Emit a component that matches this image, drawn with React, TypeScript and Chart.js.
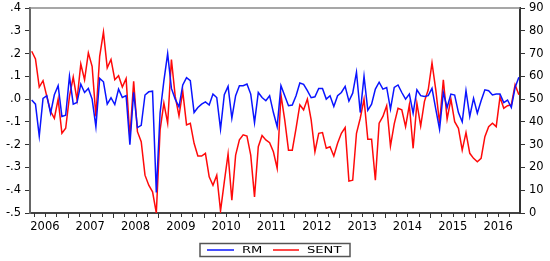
import React, { useEffect, useRef } from "react";
import { Chart, registerables } from "chart.js";
Chart.register(...registerables);

// Monthly observations, 2006M03 .. 2016M12
const START_YEAR = 2006;
const START_MONTH = 3;
const years = ["2006", "2007", "2008", "2009", "2010", "2011", "2012", "2013", "2014", "2015", "2016"];
const seriesNames = ["RM", "SENT"];

const rm = [
  -0.004, -0.022, -0.162, 0.003, 0.015, -0.062, 0.019, 0.059, -0.076, -0.071,
  0.1, -0.022, -0.015, 0.066, 0.029, 0.047, 0.0, -0.121, 0.091, 0.076,
  -0.022, 0.006, -0.024, 0.044, 0.007, 0.015, -0.2, 0.03, -0.125, -0.115,
  0.018, 0.032, 0.035, -0.41, -0.06, 0.08, 0.2, 0.047, 0.0, -0.034,
  0.062, 0.094, 0.081, -0.059, -0.037, -0.022, -0.012, -0.026, 0.022, 0.007,
  -0.132, 0.019, 0.056, -0.084, 0.015, 0.059, 0.059, 0.066, 0.022, -0.103,
  0.029, 0.007, -0.007, 0.015, -0.059, -0.121, 0.059, 0.015, -0.029, -0.026,
  0.015, 0.071, 0.065, 0.037, 0.006, 0.01, 0.047, 0.047, 0.0, 0.015,
  -0.032, 0.015, 0.029, 0.056, -0.009, 0.026, 0.118, -0.059, 0.1, -0.049,
  -0.022, 0.044, 0.074, 0.044, 0.051, -0.044, 0.051, 0.062, 0.029, 0.0,
  0.022, -0.062, 0.041, 0.015, 0.012, 0.015, 0.047, -0.044, -0.132, 0.029,
  -0.037, 0.022, 0.018, -0.059, -0.1, 0.037, -0.076, 0.003, -0.062, -0.007,
  0.041, 0.037, 0.018, 0.022, 0.022, -0.015, -0.004, -0.037, 0.051, 0.096,
];

const sent = [
  71, 67.6, 55.3, 58.1, 51.2, 44.6, 41.6, 50, 35, 37.2,
  51.2, 59.7, 49.7, 65.4, 58.5, 70.3, 64.4, 42.4, 68.8, 79.4,
  63.7, 67.4, 58.5, 60.3, 55.3, 59, 33.2, 57.8, 35.7, 31.3,
  16.6, 12.2, 9.3, 0, 36.5, 48.2, 39.4, 67.4, 51.2, 42.6,
  53.4, 38.7, 39.4, 30.6, 25, 25, 26.2, 15.9, 12.2, 16.6,
  0.9, 13.7, 25.9, 5.6, 25.4, 32.1, 34.3, 33.8, 25.4, 7.1,
  29.1, 34, 32.1, 30.9, 26.9, 19.6, 51.9, 40.9, 27.6, 27.6,
  37.2, 47.5, 45.3, 50, 40.9, 26.9, 35, 35.3, 28.4, 29.1,
  25, 30.6, 35, 37.5, 14, 14.4, 35, 41.6, 50, 32.4,
  32.4, 14.4, 39.4, 42.4, 47.1, 29.4, 39.1, 46, 45.3, 37.9,
  47.5, 28.4, 48.2, 38.2, 49, 54.1, 65.9, 54.1, 39.4, 58.5,
  41.2, 50, 40.1, 37.2, 27.6, 35.3, 26.2, 24, 22.5, 24,
  33.5, 37.9, 39.4, 37.9, 50.9, 46, 47.1, 47.5, 56.3, 51.9,
];

const leftTickValues = [-0.5, -0.4, -0.3, -0.2, -0.1, 0, 0.1, 0.2, 0.3, 0.4];
const rightTickValues = [0, 10, 20, 30, 40, 50, 60, 70, 80, 90];

const BLUE = "#0a14ff";
const RED = "#ff0a0a";
const FONT = "DejaVu Sans";

export default function App() {
  const ref = useRef<HTMLCanvasElement | null>(null);

  useEffect(() => {
    document.body.style.margin = "0";
    const canvas = ref.current;
    if (!canvas) return;

    const idxOf = (year: number, month: number) =>
      (year - START_YEAR) * 12 + (month - START_MONTH);
    const xMin = -0.45;
    const xMax = rm.length - 1 + 0.3;
    const yearCenters = years.map((y) => idxOf(+y, 1) + 5.5);
    const quarterTicks: { v: number; major: boolean }[] = [];
    for (let y = START_YEAR; y <= +years[years.length - 1] + 1; y++) {
      for (const q of [0, 3, 6, 9]) {
        const v = idxOf(y, 1 + q) - 0.5;
        if (v > xMin && v <= xMax + 0.3) quarterTicks.push({ v, major: q === 0 });
      }
    }

    const fmtLeft = (v: number) => {
      const r = Math.round(v * 10) / 10;
      return r.toFixed(1).replace("0.", ".");
    };

    const decor = {
      id: "decor",
      afterDraw(chart: any) {
        const c = chart.ctx as CanvasRenderingContext2D;
        const a = chart.chartArea;
        const xs = chart.scales.x;
        c.save();
        // top frame line
        c.strokeStyle = "#8a8a8a";
        c.lineWidth = 1.5;
        c.beginPath();
        c.moveTo(a.left, a.top);
        c.lineTo(a.right, a.top);
        c.stroke();
        // x ticks (quarters)
        c.strokeStyle = "#333";
        c.lineWidth = 1;
        for (const t of quarterTicks) {
          const px = Math.round(xs.getPixelForValue(t.v)) + 0.5;
          if (px < a.left || px > a.right + 1) continue;
          c.beginPath();
          c.moveTo(px, a.bottom);
          c.lineTo(px, a.bottom + (t.major ? 5 : 4));
          c.stroke();
        }
        // legend
        const lx = 200, ly = 243.5, lw = 150, lh = 13;
        c.strokeStyle = "#555";
        c.lineWidth = 1.5;
        c.strokeRect(lx, ly, lw, lh);
        const cy = 250;
        const items = [
          { name: seriesNames[0], color: BLUE, x0: 207, x1: 234, tx: 242 },
          { name: seriesNames[1], color: RED, x0: 273, x1: 299, tx: 307 },
        ];
        for (const it of items) {
          c.strokeStyle = it.color;
          c.lineWidth = 1.5;
          c.beginPath();
          c.moveTo(it.x0, cy);
          c.lineTo(it.x1, cy);
          c.stroke();
          c.save();
          c.translate(it.tx, cy);
          c.scale(1.38, 1);
          c.fillStyle = "#000";
          c.font = `9.5px "${FONT}"`;
          c.textBaseline = "middle";
          c.textAlign = "left";
          c.fillText(it.name, 0, 0.5);
          c.restore();
        }
        c.restore();
      },
    };

    const chart = new Chart(canvas, {
      type: "line",
      data: {
        datasets: [
          {
            label: seriesNames[0],
            data: rm.map((v, i) => ({ x: i, y: v })),
            borderColor: BLUE,
            borderWidth: 1.5,
            pointRadius: 0,
            yAxisID: "y",
            tension: 0,
          },
          {
            label: seriesNames[1],
            data: sent.map((v, i) => ({ x: i, y: v })),
            borderColor: RED,
            borderWidth: 1.5,
            pointRadius: 0,
            yAxisID: "y1",
            tension: 0,
          },
        ],
      },
      options: {
        responsive: false,
        animation: false,
        layout: { padding: { top: 8, left: 0, right: 0, bottom: 0 } },
        plugins: { legend: { display: false }, tooltip: { enabled: false } },
        scales: {
          x: {
            type: "linear",
            min: xMin,
            max: xMax,
            afterBuildTicks: (s: any) => {
              s.ticks = yearCenters.map((v) => ({ value: v }));
            },
            ticks: {
              autoSkip: false,
              maxRotation: 0,
              minRotation: 0,
              padding: 7,
              color: "#000",
              font: { family: FONT, size: 11.5 },
              callback: (_v: any, i: number) => years[i],
            },
            grid: { display: false, drawTicks: false },
            border: { display: true, color: "#444", width: 2 },
            afterFit: (s: any) => {
              s.height = 48;
              s.paddingLeft = 0;
              s.paddingRight = 0;
            },
          },
          y: {
            type: "linear",
            position: "left",
            min: -0.5,
            max: 0.4,
            afterBuildTicks: (s: any) => {
              s.ticks = leftTickValues.map((v) => ({ value: v }));
            },
            ticks: {
              padding: 4,
              color: "#000",
              font: { family: FONT, size: 11.5 },
              callback: (v: any) => fmtLeft(+v),
            },
            grid: { drawOnChartArea: false, drawTicks: true, tickLength: 5, color: "#333" },
            border: { display: true, color: "#666", width: 2 },
            afterFit: (s: any) => {
              s.width = 30;
              s.paddingTop = 0;
              s.paddingBottom = 0;
            },
          },
          y1: {
            type: "linear",
            position: "right",
            min: 0,
            max: 90,
            afterBuildTicks: (s: any) => {
              s.ticks = rightTickValues.map((v) => ({ value: v }));
            },
            ticks: {
              padding: 4,
              color: "#000",
              font: { family: FONT, size: 11.5 },
            },
            grid: { drawOnChartArea: false, drawTicks: true, tickLength: 5, color: "#333" },
            border: { display: true, color: "#333", width: 2 },
            afterFit: (s: any) => {
              s.width = 30;
              s.paddingTop = 0;
              s.paddingBottom = 0;
            },
          },
        },
      },
      plugins: [decor],
    } as any);

    return () => chart.destroy();
  }, []);

  return (
    <div style={{ position: "absolute", left: 0, top: 0, width: 550, height: 261 }}>
      <canvas ref={ref} width={550} height={261} style={{ display: "block" }} />
    </div>
  );
}
